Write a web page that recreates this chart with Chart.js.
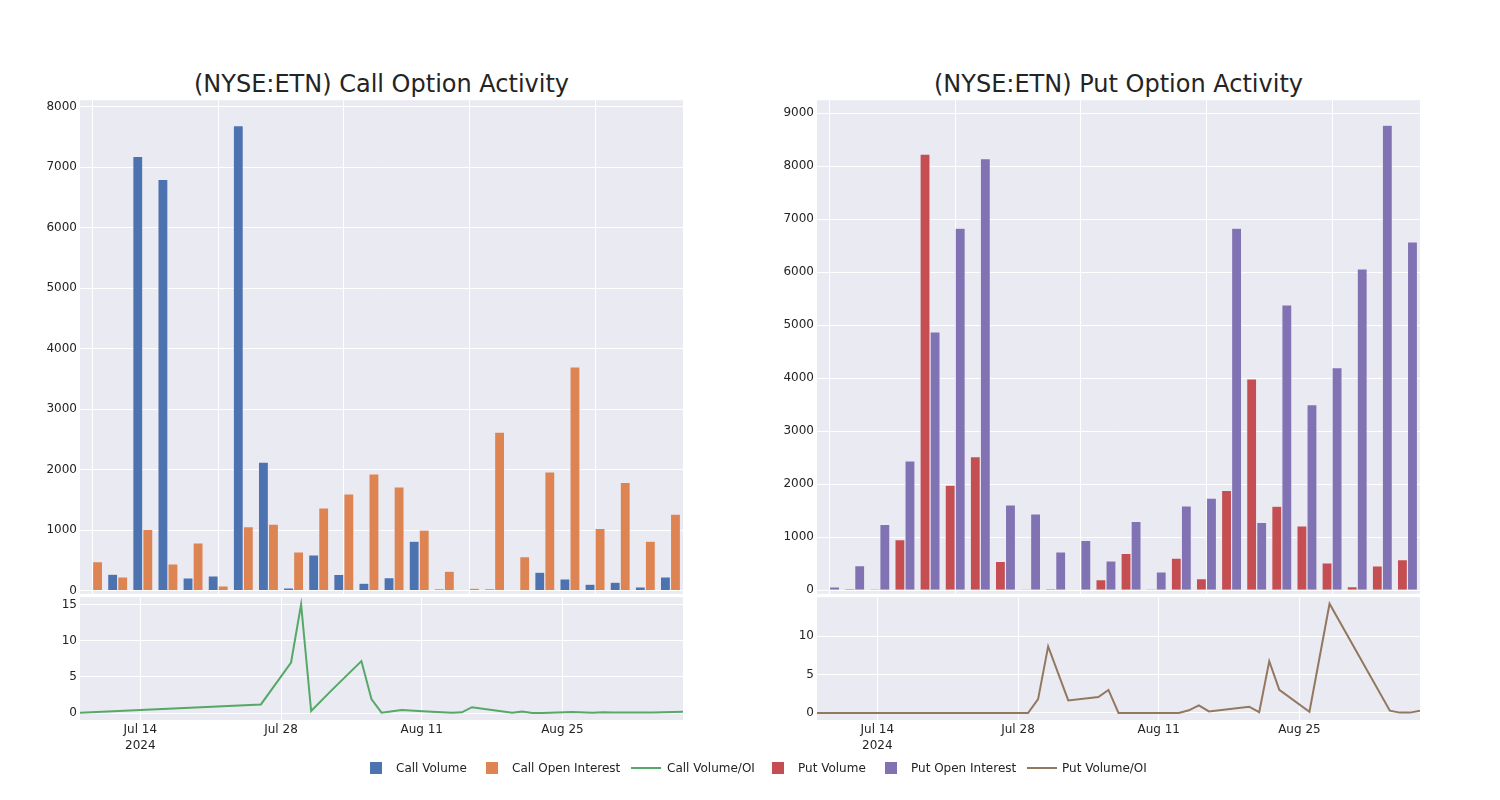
<!DOCTYPE html>
<html><head><meta charset="utf-8">
<script src="https://cdn.jsdelivr.net/npm/chart.js@4.4.1/dist/chart.umd.min.js"></script>
<style>
body{margin:0;width:1500px;height:800px;background:#fff;position:relative;overflow:hidden;font-family:"DejaVu Sans",sans-serif;color:rgb(36,36,36);}
canvas{position:absolute;}
.title{position:absolute;font-size:24px;white-space:nowrap;transform:translate(-50%,-50%);}
.leg{position:absolute;top:768px;font-size:12px;white-space:nowrap;transform:translateY(-50%);}
.sw{position:absolute;width:12px;height:12px;top:762px;}
.ln{position:absolute;width:30px;height:2px;top:767px;}
</style></head><body>
<div class="title" style="left:381.5px;top:84px">(NYSE:ETN) Call Option Activity</div>
<div class="title" style="left:1118.5px;top:84px">(NYSE:ETN) Put Option Activity</div>
<canvas id="callBars" width="693" height="514" style="left:0px;top:90px"></canvas>
<canvas id="callLine" width="693" height="173" style="left:0px;top:587px"></canvas>
<canvas id="putBars" width="693" height="514" style="left:737px;top:90px"></canvas>
<canvas id="putLine" width="693" height="173" style="left:737px;top:587px"></canvas>
<div id="legend"></div>
<script>
// ---- data ----
const callCategories = ['2024-07-08','2024-07-26','2024-07-29','2024-07-30','2024-07-31','2024-08-02','2024-08-05','2024-08-06','2024-08-07','2024-08-09','2024-08-12','2024-08-14','2024-08-15','2024-08-16','2024-08-20','2024-08-21','2024-08-22','2024-08-23','2024-08-26','2024-08-28','2024-08-29','2024-08-30','2024-09-03','2024-09-06'];
const callVolume = [10,270,7180,6800,209,242,7690,2125,44,588,264,121,214,814,28,8,28,8,303,193,105,138,61,226];
const callOpenInterest = [478,226,1011,440,786,77,1054,1099,637,1367,1598,1927,1713,1000,320,38,2620,561,1961,3697,1028,1790,814,1264];
const callRatioDates = ['2024-07-08','2024-07-26','2024-07-29','2024-07-30','2024-07-31','2024-08-02','2024-08-05','2024-08-06','2024-08-07','2024-08-09','2024-08-12','2024-08-14','2024-08-15','2024-08-16','2024-08-20','2024-08-21','2024-08-22','2024-08-23','2024-08-26','2024-08-28','2024-08-29','2024-08-30','2024-09-03','2024-09-06'];
const callRatio = [0.02,1.19,7.0,15.05,0.27,3.1,7.2,1.93,0.05,0.43,0.17,0.05,0.1,0.8,0.05,0.2,0.01,0.01,0.15,0.05,0.1,0.08,0.07,0.18];

const putCategories = ['2024-07-08','2024-07-26','2024-07-29','2024-07-30','2024-07-31','2024-08-02','2024-08-05','2024-08-06','2024-08-07','2024-08-09','2024-08-13','2024-08-14','2024-08-15','2024-08-16','2024-08-20','2024-08-21','2024-08-22','2024-08-23','2024-08-26','2024-08-28','2024-09-03','2024-09-04','2024-09-05','2024-09-06'];
const putVolume = [0,30,25,956,8227,1981,2522,547,20,30,15,201,695,25,608,219,1885,3985,1585,1215,518,68,460,580];
const putOpenInterest = [64,465,1245,2441,4874,6831,8140,1611,1441,724,943,554,1300,347,1590,1740,6831,1283,5383,3500,4200,6060,8772,6571];
const putRatioDates = ['2024-07-08','2024-07-26','2024-07-29','2024-07-30','2024-07-31','2024-08-02','2024-08-05','2024-08-06','2024-08-07','2024-08-09','2024-08-13','2024-08-14','2024-08-15','2024-08-16','2024-08-20','2024-08-21','2024-08-22','2024-08-23','2024-08-26','2024-08-28','2024-09-03','2024-09-04','2024-09-05','2024-09-06'];
const putRatio = [0,0,0,1.81,8.66,1.64,2.07,3.0,0,0.01,0.01,0.35,1.0,0.2,0.82,0.1,6.72,3.0,0.17,14.2,0.3,0.05,0.05,0.3];

const callBarTicks = [0,1000,2000,3000,4000,5000,6000,7000,8000];
const putBarTicks = [0,1000,2000,3000,4000,5000,6000,7000,8000,9000];
const callRatioTicks = [0,5,10,15];
const putRatioTicks = [0,5,10];
const dateTickValues = ['2024-07-14','2024-07-28','2024-08-11','2024-08-25'];
const dateTickLabels = [['Jul 14','2024'],'Jul 28','Aug 11','Aug 25'];
const dateRange = ['2024-07-08','2024-09-06'];

// ---- styling ----
const COLORS = {callVol:'#4C72B0', callOI:'#DD8452', callRatio:'#55A868', putVol:'#C44E52', putOI:'#8172B3', putRatio:'#937860'};
const BG = '#EAEAF2', TXT = 'rgb(36,36,36)';
Chart.defaults.font.family = '"DejaVu Sans", sans-serif';
Chart.defaults.font.size = 12;
Chart.defaults.color = TXT;

const bgPlugin = {id:'bg', beforeDraw(chart){const a=chart.chartArea,c=chart.ctx;c.save();c.fillStyle=BG;c.fillRect(a.left,a.top,a.right-a.left,a.bottom-a.top);c.restore();}};

function barChart(id, cats, d1, d2, c1, c2, n1, n2, ticks, ymin, ymax){
  new Chart(document.getElementById(id), {
    type:'bar',
    data:{labels:cats, datasets:[
      {label:n1, data:d1, backgroundColor:c1, borderColor:BG, borderWidth:0.6, categoryPercentage:0.8, barPercentage:1.0},
      {label:n2, data:d2, backgroundColor:c2, borderColor:BG, borderWidth:0.6, categoryPercentage:0.8, barPercentage:1.0}]},
    options:{responsive:false, animation:false, events:[],
      layout:{padding:{top:10,bottom:10,left:0,right:10}},
      plugins:{legend:{display:false}, tooltip:{enabled:false}},
      scales:{
        x:{offset:true, ticks:{display:false}, border:{display:false},
           grid:{offset:false, drawTicks:false, lineWidth:1, color:(c)=> (c.index%5===0 ? '#ffffff' : 'rgba(0,0,0,0)')},
           afterFit:(s)=>{s.height=0;}},
        y:{min:ymin, max:ymax, border:{display:false},
           grid:{color:'#ffffff', lineWidth:1, drawTicks:false},
           ticks:{padding:3, color:TXT, callback:(v)=>String(v)},
           afterBuildTicks:(s)=>{s.ticks = ticks.map(v=>({value:v}));},
           afterFit:(s)=>{s.width=80;}}
      }},
    plugins:[bgPlugin]
  });
}

function lineChart(id, dates, vals, color, name, ticks, ymin, ymax){
  const tickMs = dateTickValues.map(d=>Date.parse(d));
  new Chart(document.getElementById(id), {
    type:'line',
    data:{datasets:[{label:name, data:dates.map((d,i)=>({x:Date.parse(d), y:vals[i]})),
      borderColor:color, backgroundColor:color, borderWidth:2, pointRadius:0, tension:0, fill:false}]},
    options:{responsive:false, animation:false, events:[],
      layout:{padding:{top:10,bottom:0,left:0,right:10}},
      plugins:{legend:{display:false}, tooltip:{enabled:false}},
      scales:{
        x:{type:'linear', min:Date.parse(dateRange[0]), max:Date.parse(dateRange[1]), border:{display:false},
           grid:{color:'#ffffff', lineWidth:1, drawTicks:false},
           ticks:{padding:2, maxRotation:0, autoSkip:false, color:TXT, font:{lineHeight:1.3},
             callback:(v)=>{const i=tickMs.indexOf(v); return i>=0 ? dateTickLabels[i] : '';}},
           afterBuildTicks:(s)=>{s.ticks = tickMs.map(v=>({value:v}));},
           afterFit:(s)=>{s.height=40;}},
        y:{min:ymin, max:ymax, border:{display:false},
           grid:{color:'#ffffff', lineWidth:1, drawTicks:false},
           ticks:{padding:3, color:TXT, callback:(v)=>String(v)},
           afterBuildTicks:(s)=>{s.ticks = ticks.map(v=>({value:v}));},
           afterFit:(s)=>{s.width=80;}}
      }},
    plugins:[bgPlugin]
  });
}

barChart('callBars', callCategories, callVolume, callOpenInterest, COLORS.callVol, COLORS.callOI, 'Call Volume', 'Call Open Interest', callBarTicks, -55, 8111);
lineChart('callLine', callRatioDates, callRatio, COLORS.callRatio, 'Call Volume/OI', callRatioTicks, -0.97, 16.05);
barChart('putBars', putCategories, putVolume, putOpenInterest, COLORS.putVol, COLORS.putOI, 'Put Volume', 'Put Open Interest', putBarTicks, -66, 9244);
lineChart('putLine', putRatioDates, putRatio, COLORS.putRatio, 'Put Volume/OI', putRatioTicks, -0.91, 15.05);

// ---- legend ----
const legendItems = [
  {name:'Call Volume', color:COLORS.callVol, kind:'box', x:370, tx:396},
  {name:'Call Open Interest', color:COLORS.callOI, kind:'box', x:486, tx:512},
  {name:'Call Volume/OI', color:COLORS.callRatio, kind:'line', x:631, tx:667},
  {name:'Put Volume', color:COLORS.putVol, kind:'box', x:772, tx:798},
  {name:'Put Open Interest', color:COLORS.putOI, kind:'box', x:885, tx:911},
  {name:'Put Volume/OI', color:COLORS.putRatio, kind:'line', x:1027, tx:1062}
];
const lg = document.getElementById('legend');
legendItems.forEach(it=>{
  const m=document.createElement('div'); m.className= it.kind==='box'?'sw':'ln';
  m.style.left=it.x+'px'; m.style.background=it.color; lg.appendChild(m);
  const t=document.createElement('div'); t.className='leg'; t.style.left=it.tx+'px'; t.textContent=it.name; lg.appendChild(t);
});
</script>
</body></html>
